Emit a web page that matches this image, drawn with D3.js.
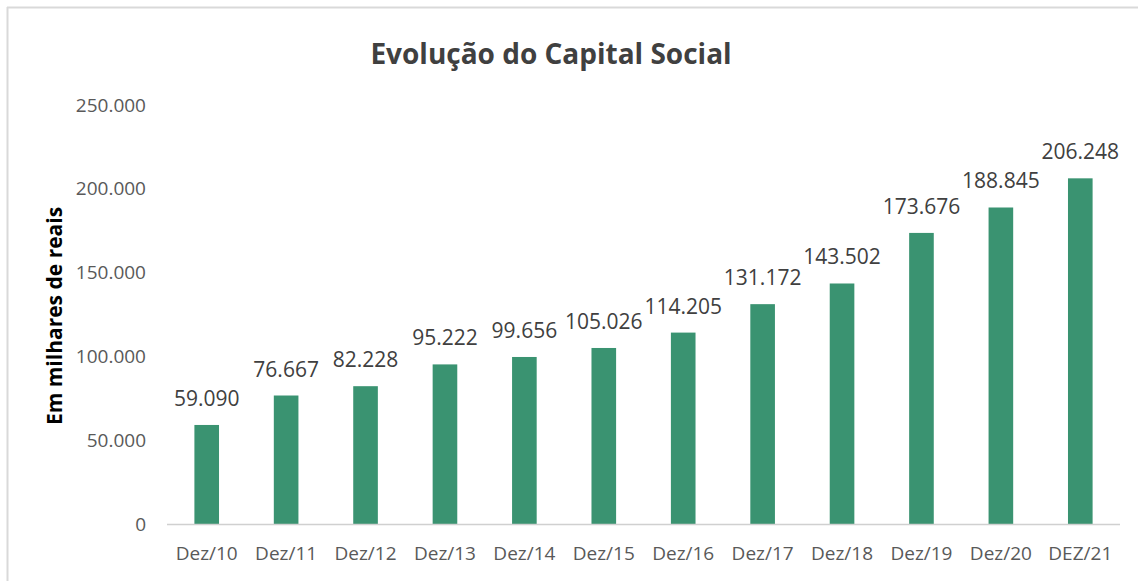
<!DOCTYPE html>
<html><head><meta charset="utf-8">
<script src="https://cdn.jsdelivr.net/npm/d3@7"></script>
<style>
html,body{margin:0;padding:0;background:#fff;}
svg{display:block;font-family:"Open Sans",sans-serif;}
</style></head>
<body><svg id="c" width="1138" height="581"></svg>
<script>
const categories = ["Dez/10","Dez/11","Dez/12","Dez/13","Dez/14","Dez/15","Dez/16","Dez/17","Dez/18","Dez/19","Dez/20","DEZ/21"];
const values = [59090,76667,82228,95222,99656,105026,114205,131172,143502,173676,188845,206248];
const yTicks = [0,50000,100000,150000,200000,250000];
const title = "Evolução do Capital Social";
const yLabel = "Em milhares de reais";

const svg = d3.select("#c");
const fmt = v => d3.format(",")(v).replace(/,/g,".");

// chart frame (top and left edge)
svg.append("line").attr("x1",7).attr("x2",1138).attr("y1",7.5).attr("y2",7.5).attr("stroke","#d9d9d9").attr("stroke-width",2);
svg.append("line").attr("x1",7.5).attr("x2",7.5).attr("y1",7).attr("y2",581).attr("stroke","#d9d9d9").attr("stroke-width",2);

const x = d3.scaleBand().domain(categories).range([167,1120]).paddingInner(0.69).paddingOuter(0.345);
const y = d3.scaleLinear().domain([0,250000]).range([524,105]);

// y tick labels
svg.append("g").selectAll("text").data(yTicks).join("text")
  .attr("x",146).attr("y",d=>y(d)).attr("dy","0.35em").attr("text-anchor","end")
  .attr("font-size",19).attr("fill","#595959").text(d=>fmt(d));

// bars
svg.append("g").selectAll("rect").data(values).join("rect")
  .attr("x",(d,i)=>x(categories[i])).attr("width",x.bandwidth())
  .attr("y",d=>y(d)).attr("height",d=>y(0)-y(d)).attr("fill","#3a9371");

// baseline
svg.append("line").attr("x1",167).attr("x2",1120).attr("y1",y(0)+0.5).attr("y2",y(0)+0.5).attr("stroke","#d0d0d0").attr("stroke-width",1.5);

// value labels
svg.append("g").selectAll("text").data(values).join("text")
  .attr("x",(d,i)=>x(categories[i])+x.bandwidth()/2).attr("y",d=>y(d)-19)
  .attr("text-anchor","middle").attr("font-size",21).attr("fill","#404040").text(d=>fmt(d));

// category labels
svg.append("g").selectAll("text").data(categories).join("text")
  .attr("x",d=>x(d)+x.bandwidth()/2).attr("y",560)
  .attr("text-anchor","middle").attr("font-size",19).attr("fill","#595959").text(d=>d);

// title
svg.append("text").attr("x",551).attr("y",64).attr("text-anchor","middle")
  .attr("font-size",28).attr("font-weight","bold").attr("fill","#404040").text(title);

// y axis label
svg.append("text").attr("transform","translate(62,316) rotate(-90)").attr("text-anchor","middle")
  .attr("font-size",21).attr("font-weight","bold").attr("fill","#000").text(yLabel);
</script></body></html>
